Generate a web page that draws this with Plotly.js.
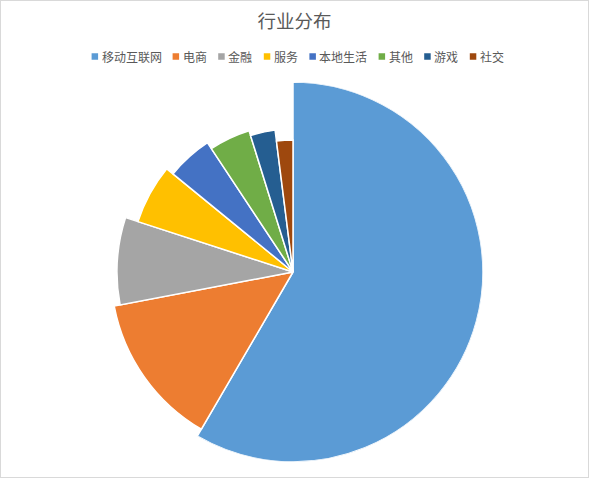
<!DOCTYPE html>
<html>
<head>
<meta charset="utf-8">
<script src="https://cdn.plot.ly/plotly-3.0.1.min.js"></script>
<style>
  body { margin: 0; padding: 0; background: #fff; }
  #chart { width: 587px; height: 476px; border: 1px solid #d9d9d9; }
</style>
</head>
<body>
<div id="chart"></div>
<script>
// 行业分布 数据
var categories = ["移动互联网", "电商", "金融", "服务", "本地生活", "其他", "游戏", "社交"];
var shares = [58.4, 13.6, 8.0, 5.9, 4.8, 4.5, 2.8, 2.0];
var radius = [190, 182, 176, 163, 155, 148, 143, 132];
var colors = ["#5B9BD5", "#ED7D31", "#A5A5A5", "#FFC000", "#4472C4", "#70AD47", "#255E91", "#9E480E"];

var W = 587, H = 476;

// excel 风格的图例: 小方块 + 文字, 手动排
function buildLegend() {
  var charW = 11.8, sq = 6.5, textOff = 9, gap = 13, cy = 55.5;
  var total = 0;
  categories.forEach(function (c, i) {
    total += textOff + c.length * charW + (i < categories.length - 1 ? gap : 0);
  });
  var x = 296 - total / 2;
  var shapes = [], annotations = [];
  categories.forEach(function (c, i) {
    shapes.push({
      type: "rect", xref: "paper", yref: "paper",
      x0: x / W, x1: (x + sq) / W,
      y0: 1 - (cy + sq / 2) / H, y1: 1 - (cy - sq / 2) / H,
      fillcolor: colors[i], line: { width: 0 }
    });
    annotations.push({
      text: c, xref: "paper", yref: "paper",
      x: (x + textOff - 1) / W, y: 1 - cy / H,
      xanchor: "left", yanchor: "middle", showarrow: false,
      font: { size: 12, color: "#595959" }
    });
    x += textOff + c.length * charW + gap;
  });
  return { shapes: shapes, annotations: annotations };
}

function drawChart() {
  var sum = shares.reduce(function (a, b) { return a + b; }, 0);
  var start = 0;
  var traces = [];
  for (var i = 0; i < categories.length; i++) {
    var w = shares[i] / sum * 360;
    traces.push({
      type: "barpolar",
      name: categories[i],
      r: [radius[i]],
      theta: [start + w / 2],
      width: [w],
      marker: { color: colors[i], line: { color: "#ffffff", width: 1.5 } },
      hoverinfo: "name"
    });
    start += w;
  }

  var leg = buildLegend();

  var layout = {
    width: W,
    height: H,
    margin: { l: 0, r: 0, t: 0, b: 0 },
    paper_bgcolor: "#ffffff",
    font: { family: "Noto Sans CJK SC, sans-serif", color: "#595959" },
    title: {
      text: "行业分布",
      font: { size: 18.5, color: "#595959" },
      x: 0.5,
      xanchor: "center",
      y: 1 - 21 / H,
      yanchor: "middle"
    },
    showlegend: false,
    shapes: leg.shapes,
    annotations: leg.annotations,
    polar: {
      domain: { x: [102 / W, 482 / W], y: [1 - 461 / H, 1 - 81 / H] },
      bgcolor: "#ffffff",
      radialaxis: { visible: false, range: [0, 190] },
      angularaxis: { visible: false, direction: "clockwise", rotation: 90 }
    }
  };

  Plotly.newPlot("chart", traces, layout, { displayModeBar: false });
}

window.addEventListener("load", drawChart);
</script>
</body>
</html>
